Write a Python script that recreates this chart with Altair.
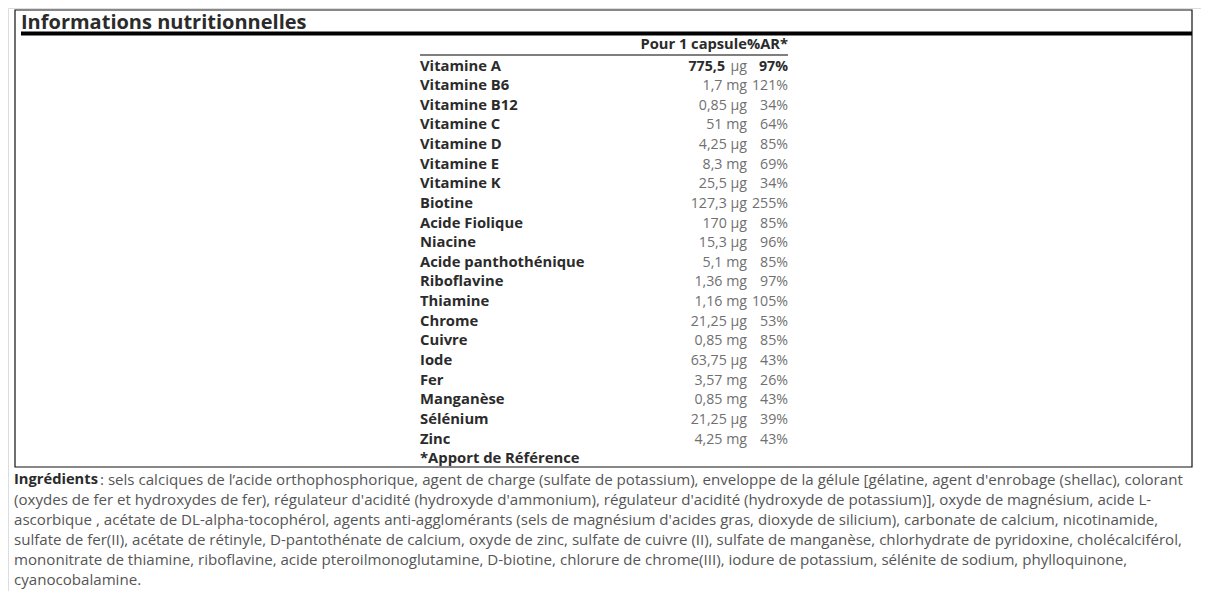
import altair as alt
import pandas as pd

# ---------------- data ----------------
title_text = "Informations nutritionnelles"
header_text = "Pour 1 capsule%AR*"
footnote_text = "*Apport de Référence"

nutrients = ["Vitamine A", "Vitamine B6", "Vitamine B12", "Vitamine C", "Vitamine D",
             "Vitamine E", "Vitamine K", "Biotine", "Acide Fiolique", "Niacine",
             "Acide panthothénique", "Riboflavine", "Thiamine", "Chrome", "Cuivre",
             "Iode", "Fer", "Manganèse", "Sélénium", "Zinc"]
amounts = ["775,5", "1,7", "0,85", "51", "4,25", "8,3", "25,5", "127,3", "170", "15,3",
           "5,1", "1,36", "1,16", "21,25", "0,85", "63,75", "3,57", "0,85", "21,25", "4,25"]
units = ["µg", "mg", "µg", "mg", "µg", "mg", "µg", "µg", "µg", "µg",
         "mg", "mg", "mg", "µg", "mg", "µg", "mg", "mg", "µg", "mg"]
percents = ["97%", "121%", "34%", "64%", "85%", "69%", "34%", "255%", "85%", "96%",
            "85%", "97%", "105%", "53%", "85%", "43%", "26%", "43%", "39%", "43%"]
bold_rows = [True] + [False] * 19

ingredients_label = "Ingrédients"
ingredients_lines = [
    ": sels calciques de l’acide orthophosphorique, agent de charge (sulfate de potassium), enveloppe de la gélule [gélatine, agent d'enrobage (shellac), colorant",
    "(oxydes de fer et hydroxydes de fer), régulateur d'acidité (hydroxyde d'ammonium), régulateur d'acidité (hydroxyde de potassium)], oxyde de magnésium, acide L-",
    "ascorbique , acétate de DL-alpha-tocophérol, agents anti-agglomérants (sels de magnésium d'acides gras, dioxyde de silicium), carbonate de calcium, nicotinamide,",
    "sulfate de fer(II), acétate de rétinyle, D-pantothénate de calcium, oxyde de zinc, sulfate de cuivre (II), sulfate de manganèse, chlorhydrate de pyridoxine, cholécalciférol,",
    "mononitrate de thiamine, riboflavine, acide pteroilmonoglutamine, D-biotine, chlorure de chrome(III), iodure de potassium, sélénite de sodium, phylloquinone,",
    "cyanocobalamine.",
]

# ---------------- tables ----------------
FONT = "Open Sans"
W, H = 1193, 583
DARK = "#2b2b2b"
GREY = "#707070"

rows = pd.DataFrame({
    "row": list(range(len(nutrients))),
    "name": nutrients,
    "amount": amounts,
    "unit": units,
    "value": [a + " " + u for a, u in zip(amounts, units)],
    "pct": percents,
    "bold": bold_rows,
})
foot = pd.DataFrame({"row": [len(nutrients)], "name": [footnote_text]})
ing = pd.DataFrame({"line": list(range(len(ingredients_lines))), "text": ingredients_lines})

def yrow():
    return alt.Y("row:Q", scale=alt.Scale(domain=[0, 19], range=[58.5, 431.5]), axis=None)

def yline():
    return alt.Y("line:Q", scale=alt.Scale(domain=[0, 5], range=[471.5, 571.5]), axis=None)

one = pd.DataFrame({"k": [0]})

box = alt.Chart(one).mark_rect(
    fillOpacity=0, stroke="#111", strokeWidth=1.2
).encode(x=alt.value(7), x2=alt.value(1184), y=alt.value(2), y2=alt.value(459))

thick = alt.Chart(one).mark_rule(
    color="#000", strokeWidth=4
).encode(x=alt.value(13), x2=alt.value(1184), y=alt.value(25.5))

thin = alt.Chart(one).mark_rule(
    color="#555", strokeWidth=1.5
).encode(x=alt.value(412), x2=alt.value(780), y=alt.value(47))

title = alt.Chart(pd.DataFrame({"t": [title_text]})).mark_text(
    align="left", baseline="alphabetic", font=FONT, fontSize=20, fontWeight="bold", color=DARK
).encode(x=alt.value(13), y=alt.value(21), text="t:N")

header = alt.Chart(pd.DataFrame({"t": [header_text]})).mark_text(
    align="right", baseline="middle", font=FONT, fontSize=14.7, fontWeight="bold", color=DARK
).encode(x=alt.value(780), y=alt.value(37), text="t:N")

names = alt.Chart(rows).mark_text(
    align="left", baseline="middle", font=FONT, fontSize=14.8, fontWeight="bold", color=DARK
).encode(x=alt.value(412), y=yrow(), text="name:N")

values_plain = alt.Chart(rows).transform_filter("!datum.bold").mark_text(
    align="right", baseline="middle", font=FONT, fontSize=14.2, color=GREY
).encode(x=alt.value(739), y=yrow(), text="value:N")

unit_bold_row = alt.Chart(rows).transform_filter("datum.bold").mark_text(
    align="right", baseline="middle", font=FONT, fontSize=14.2, color=GREY
).encode(x=alt.value(739), y=yrow(), text="unit:N")

amount_bold_row = alt.Chart(rows).transform_filter("datum.bold").mark_text(
    align="right", baseline="middle", font=FONT, fontSize=14.2, fontWeight="bold", color=DARK
).encode(x=alt.value(717), y=yrow(), text="amount:N")

pct_plain = alt.Chart(rows).transform_filter("!datum.bold").mark_text(
    align="right", baseline="middle", font=FONT, fontSize=14.2, color=GREY
).encode(x=alt.value(780), y=yrow(), text="pct:N")

pct_bold = alt.Chart(rows).transform_filter("datum.bold").mark_text(
    align="right", baseline="middle", font=FONT, fontSize=14.2, fontWeight="bold", color=DARK
).encode(x=alt.value(780), y=yrow(), text="pct:N")

footnote = alt.Chart(foot).mark_text(
    align="left", baseline="middle", font=FONT, fontSize=14.8, fontWeight="bold", color=DARK
).encode(x=alt.value(412), y=yrow(), text="name:N")

ing_label = alt.Chart(pd.DataFrame({"line": [0], "t": [ingredients_label]})).mark_text(
    align="left", baseline="middle", font=FONT, fontSize=14.7, fontWeight="bold", color=DARK
).encode(x=alt.value(6), y=yline(), text="t:N")

ing_first = alt.Chart(ing).transform_filter("datum.line == 0").mark_text(
    align="left", baseline="middle", font=FONT, fontSize=15.1, color="#555"
).encode(x=alt.value(92), y=yline(), text="text:N")

ing_rest = alt.Chart(ing).transform_filter("datum.line > 0").mark_text(
    align="left", baseline="middle", font=FONT, fontSize=15.1, color="#555"
).encode(x=alt.value(6), y=yline(), text="text:N")

chart = alt.layer(
    box, thick, thin, title, header, names, values_plain, unit_bold_row,
    amount_bold_row, pct_plain, pct_bold, footnote, ing_label, ing_first, ing_rest
).resolve_scale(y="independent").properties(
    width=W, height=H, padding=0
).configure_view(stroke=None).configure(background="white")

chart.save("out.html", embed_options={"renderer": "svg", "actions": False})
